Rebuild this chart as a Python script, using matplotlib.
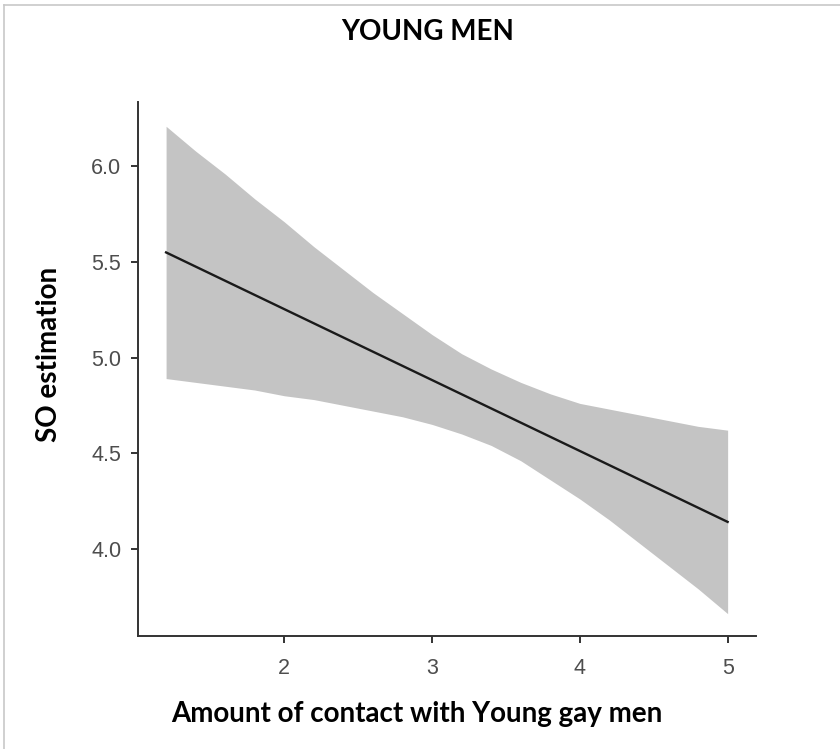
import numpy as np
import matplotlib
matplotlib.use("Agg")
import matplotlib.pyplot as plt
from matplotlib.lines import Line2D

# values (regression line + confidence band)
contact = [1.2, 1.4, 1.6, 1.8, 2.0, 2.2, 2.4, 2.6, 2.8, 3.0,
           3.2, 3.4, 3.6, 3.8, 4.0, 4.2, 4.4, 4.6, 4.8, 5.0]
upper = [6.21, 6.08, 5.96, 5.83, 5.71, 5.58, 5.46, 5.34, 5.23, 5.12,
         5.02, 4.94, 4.87, 4.81, 4.76, 4.73, 4.70, 4.67, 4.64, 4.62]
lower = [4.89, 4.87, 4.85, 4.83, 4.80, 4.78, 4.75, 4.72, 4.69, 4.65,
         4.60, 4.54, 4.46, 4.36, 4.26, 4.15, 4.03, 3.91, 3.79, 3.66]
fit_x = [1.2, 5.0]
fit_y = [5.55, 4.14]

x_ticks = [2, 3, 4, 5]
y_ticks = [4.0, 4.5, 5.0, 5.5, 6.0]

title = "YOUNG MEN"
xlabel = "Amount of contact with Young gay men"
ylabel = "SO estimation"

fig = plt.figure(figsize=(8.4, 7.49), dpi=100)
ax = fig.add_axes([138 / 840, 1 - 636 / 749, (755.7 - 138) / 840, (636 - 102) / 749])

ax.fill_between(contact, lower, upper, color="#c4c4c4", lw=0)
ax.plot(fit_x, fit_y, color="#1a1a1a", lw=1.7)

ax.set_xlim(1.01, 5.19)
ax.set_ylim(3.543, 6.337)
ax.set_xticks(x_ticks)
ax.set_xticklabels([str(t) for t in x_ticks])
ax.set_yticks(y_ticks)
ax.set_yticklabels([f"{t:.1f}" for t in y_ticks])

for side in ["top", "right"]:
    ax.spines[side].set_visible(False)
for side in ["left", "bottom"]:
    ax.spines[side].set_color("#333333")
    ax.spines[side].set_linewidth(1.4)

ax.tick_params(axis="both", length=5, width=1.4, color="#333333",
               labelcolor="#4d4d4d", labelsize=15.5)
ax.tick_params(axis="x", pad=11)
ax.tick_params(axis="y", pad=7)
for lab in ax.get_xticklabels() + ax.get_yticklabels():
    lab.set_family("Liberation Sans")

fig.text(428 / 840, 1 - 32 / 749, title, ha="center", va="center",
         fontsize=20, fontweight="bold", family="Lato")
fig.text(417 / 840, 1 - 714 / 749, xlabel, ha="center", va="center",
         fontsize=20, fontweight="bold", family="Lato")
fig.text(49 / 840, 1 - 354 / 749, ylabel, ha="center", va="center",
         rotation=90, fontsize=20, fontweight="bold", family="Lato")

# thin light frame along the top and left edges
fig.add_artist(Line2D([4 / 840, 1], [1 - 5 / 749, 1 - 5 / 749],
                      transform=fig.transFigure, color="#c8c8c8", lw=1.2))
fig.add_artist(Line2D([4 / 840, 4 / 840], [1 - 5 / 749, 0],
                      transform=fig.transFigure, color="#c8c8c8", lw=1.2))

fig.savefig("out.png", dpi=100)
